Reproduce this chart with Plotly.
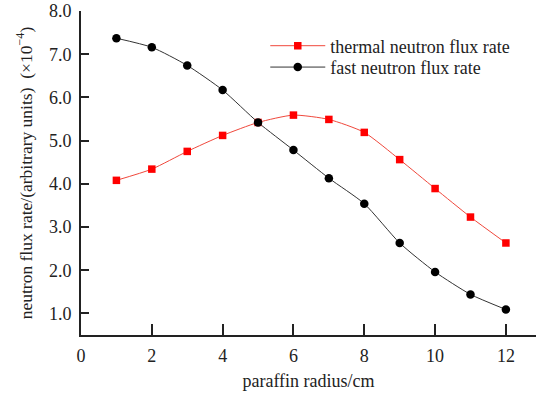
import plotly.graph_objects as go

radius = [1, 2, 3, 4, 5, 6, 7, 8, 9, 10, 11, 12]
thermal = [4.08, 4.34, 4.75, 5.12, 5.42, 5.59, 5.49, 5.19, 4.56, 3.89, 3.23, 2.63]
fast = [7.37, 7.16, 6.74, 6.17, 5.42, 4.78, 4.13, 3.54, 2.63, 1.96, 1.44, 1.09]
x_ticks = [0, 2, 4, 6, 8, 10, 12]
y_ticks = [1, 2, 3, 4, 5, 6, 7, 8]

font = "Liberation Serif, Times New Roman, serif"

fig = go.Figure()
fig.add_trace(go.Scatter(
    x=radius, y=thermal, mode="lines+markers", name="thermal neutron flux rate",
    line=dict(color="#f0483c", width=1, shape="spline", smoothing=0.6),
    marker=dict(symbol="square", size=7.5, color="#ff0000"),
    legend="legend",
))
fig.add_trace(go.Scatter(
    x=radius, y=fast, mode="lines+markers", name="fast neutron flux rate",
    line=dict(color="#333333", width=1, shape="spline", smoothing=0.6),
    marker=dict(symbol="circle", size=8.5, color="#000000"),
    legend="legend2",
))

leg_common = dict(xanchor="left", yanchor="middle", bgcolor="rgba(0,0,0,0)",
                  font=dict(size=18, family=font, color="#222222"), itemwidth=55,
                  borderwidth=0)

fig.update_layout(
    width=536, height=393,
    margin=dict(l=81, r=0, t=11, b=58),
    paper_bgcolor="white", plot_bgcolor="white",
    font=dict(family=font, size=18, color="#222222"),
    showlegend=True,
    legend=dict(x=0.405, y=0.892, **leg_common),
    legend2=dict(x=0.405, y=0.826, **leg_common),
    xaxis=dict(range=[0, 12.85], tickvals=x_ticks, ticktext=[str(v) for v in x_ticks],
               ticks="inside", ticklen=11, tickwidth=1.5, tickcolor="#222",
               showline=True, linecolor="#222", linewidth=2, showgrid=False, zeroline=False,
               ticklabelstandoff=3,
               title=dict(text="paraffin radius/cm", font=dict(size=18), standoff=10),
               tickfont=dict(size=18)),
    yaxis=dict(range=[0.5, 8.0], tickvals=y_ticks, ticktext=[f"{v:.1f}" for v in y_ticks],
               ticks="inside", ticklen=8, tickwidth=1.5, tickcolor="#222",
               showline=True, linecolor="#222", linewidth=2, showgrid=False, zeroline=False,
               ticklabelstandoff=4,
               title=dict(text="neutron flux rate/(arbitrary units)  (×10<sup>−4</sup>)",
                          font=dict(size=17.5), standoff=12),
               tickfont=dict(size=18)),
)

fig.write_html("out.html")
